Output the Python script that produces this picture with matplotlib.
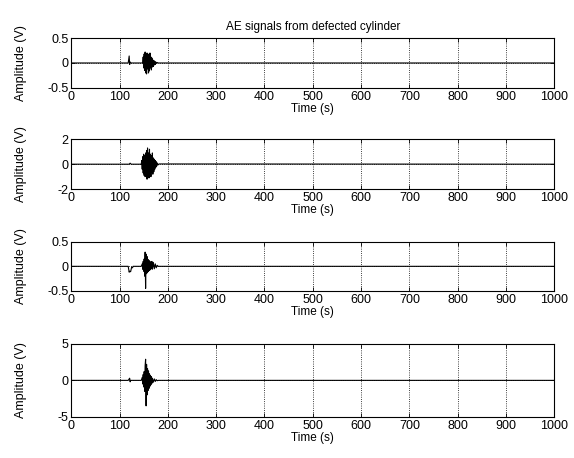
import numpy as np
import matplotlib
matplotlib.use('Agg')
from matplotlib import pyplot as plt

plt.rcParams['font.family'] = ['Liberation Sans', 'DejaVu Sans']
plt.rcParams['axes.unicode_minus'] = False

# time axis ticks
xticks = [0, 100, 200, 300, 400, 500, 600, 700, 800, 900, 1000]

# channel 1 (V)
t1 = [0, 118, 120, 121, 122, 124, 148, 149, 150, 151, 152, 153, 154, 155, 156, 157, 158, 159, 160, 161,
      162, 163, 164, 165, 166, 167, 168, 169, 170, 171, 172, 173, 174, 175, 176, 178, 180, 1000]
v1 = [0, 0, 0.14, -0.03, 0.02, 0, 0, 0.12, -0.1, 0.18, -0.15, 0.22, -0.2, 0.15, -0.22, 0.2, -0.12, 0.18,
      -0.2, 0.14, -0.16, 0.2, -0.1, 0.12, -0.14, 0.1, -0.08, 0.06, -0.07, 0.05, -0.04, 0.03, -0.03, 0.02,
      -0.01, 0.01, 0, 0]
yt1 = [-0.5, 0, 0.5]
yl1 = ['-0.5', '0', '0.5']

# channel 2 (V)
t2 = [0, 120, 122, 124, 145, 146, 147, 148, 149, 150, 151, 152, 153, 154, 155, 156, 157, 158, 159, 160,
      161, 162, 163, 164, 165, 166, 167, 168, 169, 170, 171, 172, 173, 174, 175, 176, 177, 178, 180, 182, 1000]
v2 = [0, 0, 0.08, 0, 0, 0.3, -0.4, 0.6, -0.7, 0.8, -0.9, 0.7, -1.0, 0.9, -0.8, 1.1, -1.2, 1.3, -1.0, 0.9,
      -1.1, 1.2, -0.9, 0.8, -1.0, 0.7, -0.6, 0.9, -0.8, 0.5, -0.6, 0.4, -0.4, 0.3, -0.25, 0.2, -0.15, 0.1,
      -0.05, 0.02, 0]
yt2 = [-2, 0, 2]
yl2 = ['-2', '0', '2']

# channel 3 (V)
t3 = [0, 118, 120, 121, 123, 125, 127, 128, 130, 145, 147, 148, 149, 150, 151, 152, 153, 154, 155, 156,
      157, 158, 159, 160, 161, 162, 163, 164, 165, 166, 167, 168, 170, 172, 174, 176, 178, 180, 1000]
v3 = [0, 0, -0.12, -0.1, -0.11, -0.02, -0.03, 0, 0, 0, 0.05, -0.06, 0.1, -0.1, 0.15, -0.2, 0.29, -0.45,
      0.25, -0.15, 0.2, -0.12, 0.14, -0.1, 0.12, -0.08, 0.1, -0.07, 0.08, -0.05, 0.1, -0.06, 0.08, -0.05,
      0.05, -0.03, 0.02, 0, 0]
yt3 = [-0.5, 0, 0.5]
yl3 = ['-0.5', '0', '0.5']

# channel 4 (V)
t4 = [0, 118, 121, 122, 123, 126, 145, 147, 148, 149, 150, 151, 152, 153, 154, 155, 156, 157, 158, 159,
      160, 161, 162, 163, 164, 165, 166, 167, 168, 170, 172, 174, 176, 178, 180, 1000]
v4 = [0, 0, 0.3, -0.2, 0, 0, 0, 0.4, -0.5, 0.8, -0.9, 1.2, -1.5, 2.0, 2.9, -3.5, 2.2, -2.0, 1.6, -1.4,
      1.3, -1.1, 0.9, -0.8, 0.7, -0.6, 0.5, -0.4, 0.3, -0.25, 0.2, -0.15, 0.1, -0.05, 0, 0]
yt4 = [-5, 0, 5]
yl4 = ['-5', '0', '5']

channels = [(t1, v1, yt1, yl1), (t2, v2, yt2, yl2), (t3, v3, yt3, yl3), (t4, v4, yt4, yl4)]

# axes rectangles [left, bottom, width, height] in figure fractions
boxes = [[0.124, 0.808, 0.842, 0.109],
         [0.124, 0.587, 0.842, 0.109],
         [0.124, 0.365, 0.842, 0.107],
         [0.124, 0.090, 0.842, 0.159]]

fig = plt.figure(figsize=(5.74, 4.58), dpi=100)
for i, (t, v, yt, yl) in enumerate(channels):
    ax = fig.add_axes(boxes[i])
    ax.plot(t, v, color='black', lw=0.8)
    ax.set_xlim(0, 1000)
    ax.set_ylim(yt[0], yt[-1])
    ax.set_xticks(xticks)
    ax.set_xticklabels([str(x) for x in xticks])
    ax.set_yticks(yt)
    ax.set_yticklabels(yl)
    ax.grid(True, linestyle=':', color='black', lw=0.6)
    ax.tick_params(direction='in', top=True, right=True, length=3, width=0.6,
                   labelsize=9, pad=2)
    for s in ax.spines.values():
        s.set_linewidth(0.8)
    ax.set_xlabel('Time (s)', fontsize=8.5, labelpad=0)
    ax.set_ylabel('Amplitude (V)', fontsize=9)
    ax.yaxis.set_label_coords(-0.092, 0.5)
    if i == 0:
        ax.set_title('AE signals from defected cylinder', fontsize=8.5, pad=6)

plt.savefig('out.png', dpi=100)
